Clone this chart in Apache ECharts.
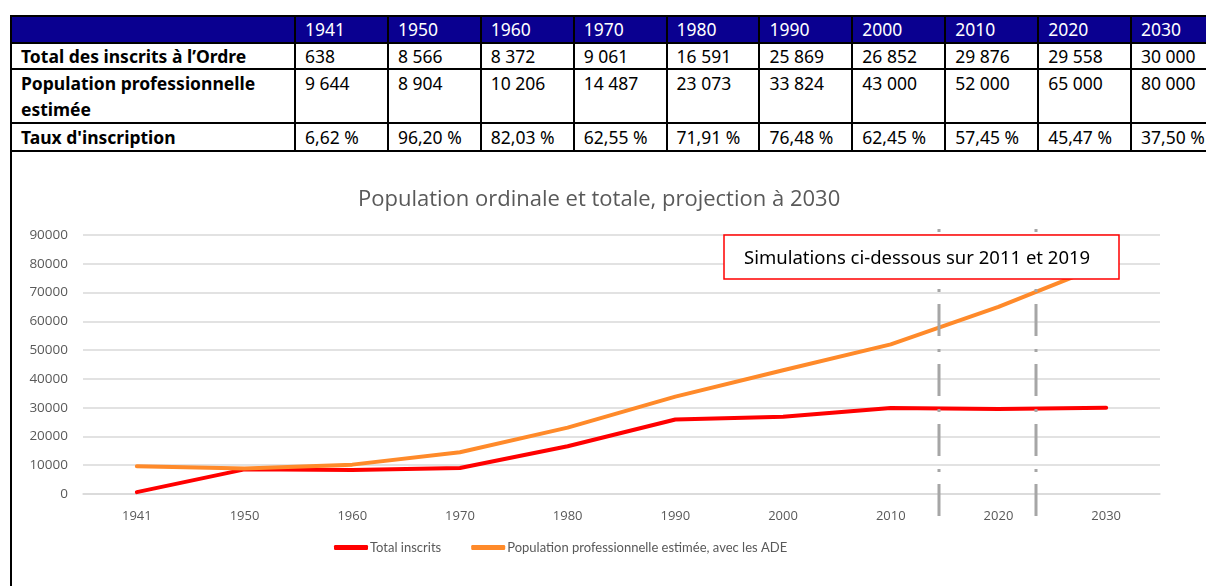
<!DOCTYPE html>
<html>
<head>
<meta charset="utf-8">
<script src="https://cdn.jsdelivr.net/npm/echarts@6/dist/echarts.min.js"></script>
<style>
  html, body { margin: 0; padding: 0; background: #fff; overflow: hidden; width: 1206px; height: 586px; }
  #tbl {
    position: absolute; left: 10px; top: 15px; width: 1213px;
    border-collapse: collapse; table-layout: fixed;
    font-family: "Noto Sans", sans-serif; font-size: 17.5px; color: #000;
  }
  #tbl td { border: 2px solid #000; padding: 0 0 0 9px; vertical-align: top; line-height: 25px; white-space: nowrap; overflow: hidden; }
  #tbl tr.head td { background: #0A0090; color: #fff; height: 25px; }
  #tbl td.lab { font-weight: bold; }
  #frame { position: absolute; left: 10px; top: 152px; width: 2px; height: 434px; background: #000; }
  #chart { position: absolute; left: 0; top: 152px; width: 1206px; height: 434px; }
</style>
</head>
<body>
<table id="tbl"></table>
<div id="frame"></div>
<div id="chart"></div>
<script>
// données du tableau et du graphique
var years = ["1941", "1950", "1960", "1970", "1980", "1990", "2000", "2010", "2020", "2030"];
var totalInscrits = [638, 8566, 8372, 9061, 16591, 25869, 26852, 29876, 29558, 30000];
var populationPro = [9644, 8904, 10206, 14487, 23073, 33824, 43000, 52000, 65000, 80000];
var tauxInscription = ["6,62 %", "96,20 %", "82,03 %", "62,55 %", "71,91 %", "76,48 %", "62,45 %", "57,45 %", "45,47 %", "37,50 %"];
var rowLabels = ["Total des inscrits à l\u2019Ordre", "Population professionnelle<br>estimée", "Taux d'inscription"];
var simulationAt = [7.45, 8.35]; // position des lignes pointillées (index de catégorie)

function fmt (n) {
  return String(n).replace(/\B(?=(\d{3})+(?!\d))/g, " ");
}

// tableau
var tbl = document.getElementById("tbl");
var html = '<colgroup><col style="width:284px">';
years.forEach(function () { html += '<col style="width:92.9px">'; });
html += '</colgroup>';
html += '<tr class="head"><td></td>' + years.map(function (y) { return "<td>" + y + "</td>"; }).join("") + "</tr>";
html += '<tr><td class="lab" style="height:24px;line-height:24px">' + rowLabels[0] + "</td>" + totalInscrits.map(function (v) { return '<td style="line-height:24px">' + fmt(v) + "</td>"; }).join("") + "</tr>";
html += '<tr><td class="lab" style="height:51px;line-height:26px">' + rowLabels[1] + "</td>" + populationPro.map(function (v) { return '<td style="line-height:26px">' + fmt(v) + "</td>"; }).join("") + "</tr>";
html += '<tr><td class="lab" style="height:26px;line-height:26px">' + rowLabels[2] + "</td>" + tauxInscription.map(function (v) { return '<td style="line-height:26px">' + v + "</td>"; }).join("") + "</tr>";
tbl.innerHTML = html;

// graphique
var myChart = echarts.init(document.getElementById("chart"));
var grayText = "#595959";
var option = {
  animation: false,
  title: {
    text: "Population ordinale et totale, projection à 2030",
    left: 353,
    top: 32,
    textStyle: { color: grayText, fontFamily: "Open Sans", fontWeight: "normal", fontSize: 22 }
  },
  grid: { left: 83, right: 46, top: 83, bottom: 92 },
  legend: {
    bottom: 27,
    left: 329,
    itemGap: 30,
    itemWidth: 34,
    itemHeight: 5,
    icon: "roundRect",
    textStyle: { color: grayText, fontFamily: "Lato", fontSize: 13, padding: [0, 0, 0, -3] },
    data: ["Total inscrits", "Population professionnelle estimée, avec les ADE"]
  },
  xAxis: {
    type: "category",
    data: years,
    boundaryGap: true,
    axisLine: { show: true, lineStyle: { color: "#D9D9D9", width: 1.5 } },
    axisTick: { show: false },
    axisLabel: { color: grayText, fontFamily: "Open Sans", fontSize: 13, margin: 16 }
  },
  yAxis: {
    type: "value",
    min: 0,
    max: 90000,
    interval: 10000,
    axisLine: { show: false },
    axisTick: { show: false },
    axisLabel: {
      color: grayText, fontFamily: "Open Sans", fontSize: 13.5, margin: 15,
      formatter: function (v) { return String(v); }
    },
    splitLine: { lineStyle: { color: "#D9D9D9", width: 1.5 } }
  },
  series: [
    {
      name: "Total inscrits",
      type: "line",
      data: totalInscrits,
      symbol: "none",
      color: "#FF0000",
      lineStyle: { width: 4, cap: "round", join: "round" },
      z: 2
    },
    {
      name: "Population professionnelle estimée, avec les ADE",
      type: "line",
      data: populationPro,
      symbol: "none",
      color: "#FF8A2A",
      lineStyle: { width: 4, cap: "round", join: "round" },
      z: 3
    }
  ]
};
myChart.setOption(option);

// lignes pointillées + encadré de simulation
function xAt (idx) {
  var i = Math.floor(idx), f = idx - i;
  var a = myChart.convertToPixel({ xAxisIndex: 0 }, years[i]);
  var b = myChart.convertToPixel({ xAxisIndex: 0 }, years[i + 1]);
  return a + (b - a) * f;
}
var yTop = myChart.convertToPixel({ yAxisIndex: 0 }, 90000);
var yZero = myChart.convertToPixel({ yAxisIndex: 0 }, 0);
var graphics = simulationAt.map(function (idx) {
  var x = Math.round(xAt(idx));
  return {
    type: "line",
    z: 50,
    shape: { x1: x, y1: yTop - 6, x2: x, y2: yZero + 22 },
    style: { stroke: "#A6A6A6", lineWidth: 3, lineDash: [3, 12, 32, 13] }
  };
});
graphics.push({
  type: "rect",
  z: 60,
  shape: { x: 724, y: 83, width: 395, height: 44 },
  style: { fill: "#fff", stroke: "#FF0000", lineWidth: 1.5 }
});
graphics.push({
  type: "text",
  z: 61,
  x: 744,
  y: 107,
  style: { text: "Simulations ci-dessous sur 2011 et 2019", fill: "#000", font: "18.5px 'Noto Sans'", verticalAlign: "middle" }
});
myChart.setOption({ graphic: graphics });
</script>
</body>
</html>
